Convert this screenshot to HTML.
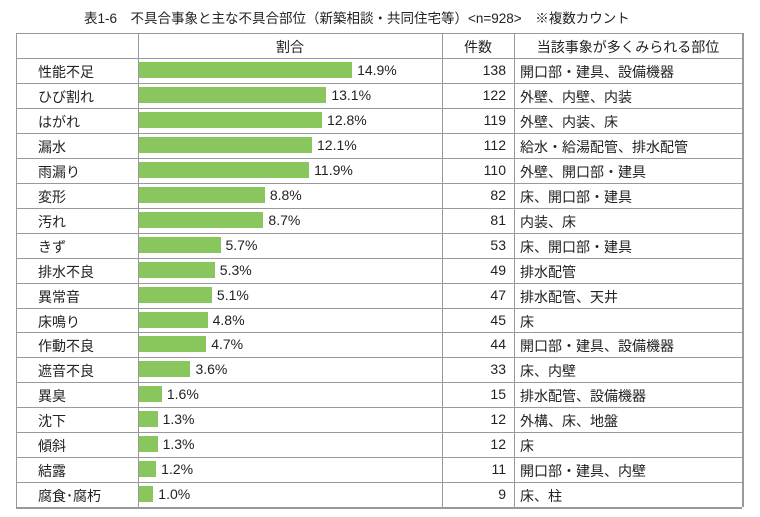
<!DOCTYPE html>
<html><head><meta charset="utf-8"><style>
body{margin:0;width:760px;height:517px;background:#fff;font-family:"Liberation Sans","Noto Sans CJK JP",sans-serif;color:#222;position:relative;overflow:hidden}
.t{position:absolute;white-space:nowrap}
.line{position:absolute;background:#999}
.bar{position:absolute;background:#8ac65e}
</style></head><body>
<div class="t" style="left:84px;top:7px;font-size:13.5px">表1-6　不具合事象と主な不具合部位（新築相談・共同住宅等）&lt;n=928&gt;　※複数カウント</div>
<div id="tbl"></div>
<script>
const categories=["性能不足","ひび割れ","はがれ","漏水","雨漏り","変形","汚れ","きず","排水不良","異常音","床鳴り","作動不良","遮音不良","異臭","沈下","傾斜","結露","腐食･腐朽"];
const shares=[14.9,13.1,12.8,12.1,11.9,8.8,8.7,5.7,5.3,5.1,4.8,4.7,3.6,1.6,1.3,1.3,1.2,1.0];
const counts=[138,122,119,112,110,82,81,53,49,47,45,44,33,15,12,12,11,9];
const parts=["開口部・建具、設備機器","外壁、内壁、内装","外壁、内装、床","給水・給湯配管、排水配管","外壁、開口部・建具","床、開口部・建具","内装、床","床、開口部・建具","排水配管","排水配管、天井","床","開口部・建具、設備機器","床、内壁","排水配管、設備機器","外構、床、地盤","床","開口部・建具、内壁","床、柱"];
const L=16,R=742,C1=138,C2=442,C3=514,T=33,H0=58,RH=24.95,PX=14.3;
const tb=document.getElementById('tbl');
function mk(cls,style,text){const d=document.createElement('div');d.className=cls;d.style.cssText=style;if(text!==undefined)d.textContent=text;tb.appendChild(d);return d;}
const B=H0+RH*categories.length;
[[L,T,R-L,1],[L,B,R-L,1.5],[L,T,1,B-T],[C1,T,1,B-T],[C2,T,1,B-T],[C3,T,1,B-T],[R,T,1.5,B-T]].forEach((a,i)=>{const e=mk('line',`left:${a[0]}px;top:${a[1]}px;width:${a[2]}px;height:${a[3]}px`);

});
for(let i=0;i<=categories.length-1;i++){const e=mk('line',`left:${L}px;top:${H0+RH*i}px;width:${R-L}px;height:1px`);

}
let h=mk('t',`left:${C1}px;width:${C2-C1}px;text-align:center;top:37px;font-size:14px`,'割合');


h=mk('t',`left:${C2}px;width:${C3-C2}px;text-align:center;top:37px;font-size:14px`,'件数');


h=mk('t',`left:${C3}px;width:${R-C3}px;text-align:center;top:37px;font-size:14px`,'当該事象が多くみられる部位');


categories.forEach((c,i)=>{const y=H0+RH*i;
let e=mk('t',`left:38px;top:${y+4}px;font-size:14px`,c);


const w=shares[i]*PX;
e=mk('bar',`left:${C1+1}px;top:${y+4}px;width:${w}px;height:16px`);


e=mk('t',`left:${C1+w+6}px;top:${y+4}px;font-size:14px`,shares[i].toFixed(1)+'%');


e=mk('t',`left:${C2}px;width:${C3-C2-8}px;text-align:right;top:${y+4}px;font-size:14px`,String(counts[i]));


e=mk('t',`left:${C3+6}px;top:${y+4}px;font-size:14px`,parts[i]);


});
</script>
</body></html>
